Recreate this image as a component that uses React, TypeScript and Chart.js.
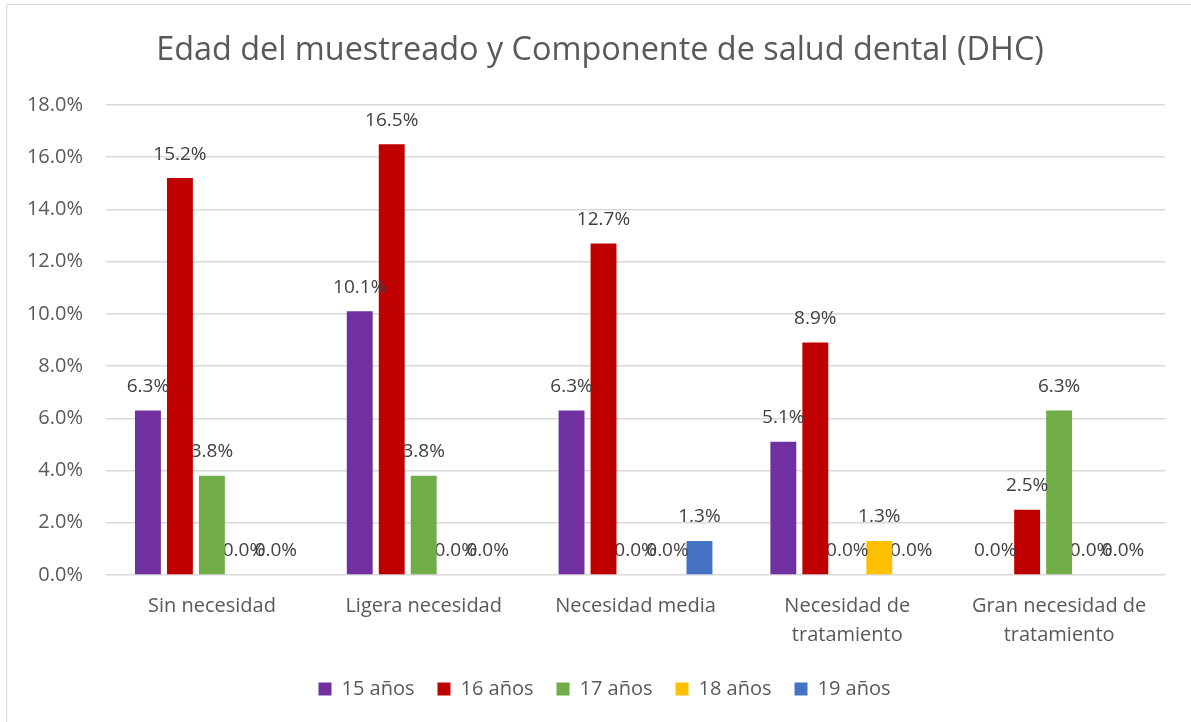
import React, { useEffect, useRef } from "react";
import { Chart, registerables } from "chart.js";

Chart.register(...registerables);

const chartTitle = "Edad del muestreado y Componente de salud dental (DHC)";

const categories: string[][] = [
  ["Sin necesidad"],
  ["Ligera necesidad"],
  ["Necesidad media"],
  ["Necesidad de", "tratamiento"],
  ["Gran necesidad de", "tratamiento"],
];

const seriesNames = ["15 años", "16 años", "17 años", "18 años", "19 años"];
const values15 = [6.3, 10.1, 6.3, 5.1, 0.0];
const values16 = [15.2, 16.5, 12.7, 8.9, 2.5];
const values17 = [3.8, 3.8, 0.0, 0.0, 6.3];
const values18 = [0.0, 0.0, 0.0, 1.3, 0.0];
const values19 = [0.0, 0.0, 1.3, 0.0, 0.0];
const seriesColors = ["#7030A0", "#C00000", "#70AD47", "#FFC000", "#4472C4"];

const yTicks = [0, 2, 4, 6, 8, 10, 12, 14, 16, 18];

const FONT = "'Open Sans', 'Noto Sans', sans-serif";

const labelPlugin = {
  id: "barValueLabels",
  afterDatasetDraw(chart: any, args: any) {
    const ctx = chart.ctx;
    const meta = args.meta;
    const ds = chart.data.datasets[args.index];
    ctx.save();
    ctx.font = `19px ${FONT}`;
    ctx.fillStyle = "#404040";
    ctx.textAlign = "center";
    ctx.textBaseline = "middle";
    meta.data.forEach((el: any, i: number) => {
      const v = ds.data[i] as number;
      ctx.fillText(v.toFixed(1) + "%", el.x, el.y - 24);
    });
    ctx.restore();
  },
};

const titlePlugin = {
  id: "excelTitle",
  afterLayout(chart: any) {
    if (chart.legend) chart.legend.left += 44;
  },
  afterDraw(chart: any) {
    const ctx = chart.ctx;
    ctx.save();
    ctx.font = `32.4px ${FONT}`;
    ctx.fillStyle = "#595959";
    ctx.textAlign = "center";
    ctx.textBaseline = "middle";
    ctx.fillText(chartTitle, 600, 51);
    ctx.restore();
  },
};

export default function App() {
  const ref = useRef<HTMLCanvasElement>(null);
  useEffect(() => {
    if (!ref.current) return;
    const all = [values15, values16, values17, values18, values19];
    const chart = new Chart(ref.current, {
      type: "bar",
      data: {
        labels: categories,
        datasets: all.map((d, i) => ({
          label: seriesNames[i],
          data: d,
          backgroundColor: seriesColors[i],
          borderWidth: 0,
          categoryPercentage: 0.755,
          barPercentage: 0.81,
        })),
      },
      options: {
        animation: false,
        responsive: false,
        maintainAspectRatio: false,
        layout: { padding: { left: 0, right: 26, top: 105, bottom: 13 } },
        plugins: {
          title: { display: false },
          legend: {
            position: "bottom",
            labels: {
              boxWidth: 13,
              boxHeight: 13,
              color: "#595959",
              font: { family: FONT, size: 20 },
              padding: 23,
            },
          },
          tooltip: { enabled: false },
        },
        scales: {
          x: {
            grid: { display: false },
            border: { display: false },
            afterFit: (scale: any) => {
              scale.height -= 3;
            },
            ticks: {
              color: "#595959",
              font: { family: FONT, size: 20, lineHeight: 1.45 },
              padding: 9,
              maxRotation: 0,
              autoSkip: false,
            },
          },
          y: {
            min: 0,
            max: 18,
            afterBuildTicks: (scale: any) => {
              scale.ticks = yTicks.map((v) => ({ value: v }));
            },
            afterFit: (scale: any) => {
              scale.width = 106;
            },
            grid: { color: "#d9d9d9", lineWidth: 1.5, drawTicks: false },
            border: { display: false },
            ticks: {
              color: "#595959",
              font: { family: FONT, size: 20 },
              padding: 23,
              callback: (v: any) => Number(v).toFixed(1) + "%",
            },
          },
        },
      },
      plugins: [labelPlugin, titlePlugin],
    });
    return () => chart.destroy();
  }, []);
  return (
    <div style={{ position: "fixed", left: 0, top: 0, width: 1191, height: 722, background: "#fff" }}>
      <div
        style={{
          position: "absolute",
          left: 6,
          top: 4,
          width: 1300,
          height: 900,
          border: "1.5px solid #d9d9d9",
        }}
      />
      <canvas ref={ref} width={1191} height={722} style={{ position: "absolute", left: 0, top: 0 }} />
    </div>
  );
}
